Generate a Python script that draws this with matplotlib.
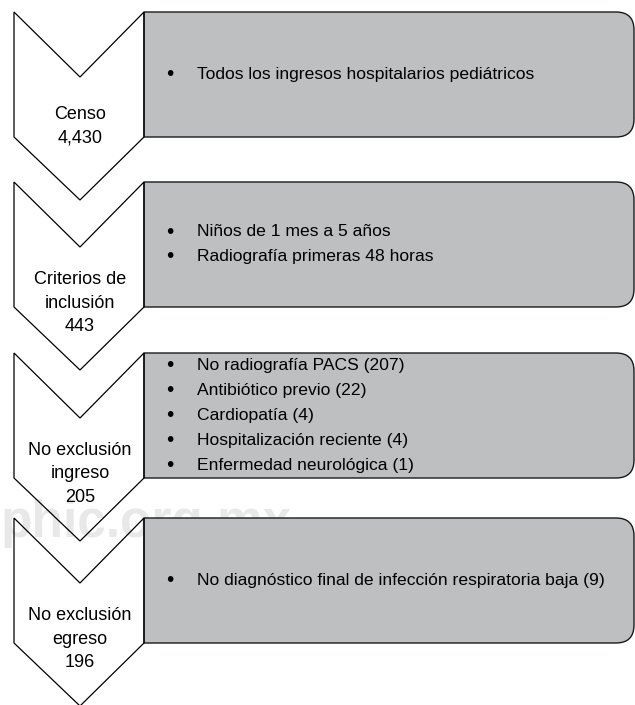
import matplotlib
matplotlib.use('Agg')
import matplotlib.pyplot as plt
from matplotlib.path import Path
from matplotlib.patches import PathPatch, Polygon

# etapas del diagrama de flujo
etapas = ['Censo\n4,430',
          'Criterios de\ninclusión\n443',
          'No exclusión\ningreso\n205',
          'No exclusión\negreso\n196']

criterios = [
    ['Todos los ingresos hospitalarios pediátricos'],
    ['Niños de 1 mes a 5 años', 'Radiografía primeras 48 horas'],
    ['No radiografía PACS (207)', 'Antibiótico previo (22)', 'Cardiopatía (4)',
     'Hospitalización reciente (4)', 'Enfermedad neurológica (1)'],
    ['No diagnóstico final de infección respiratoria baja (9)'],
]

FUENTE = ['Liberation Sans', 'DejaVu Sans']
GRIS = '#bebfc1'

# geometria (pixeles)
tops = [12, 182, 353, 518]
x0, xm, x1, xr = 14, 80, 144, 634
alto = 125
muesca = 65
radio = 18
interlinea = 25


def caja(top):
    b = top + alto
    verts = [(x1, top), (xr - radio, top), (xr, top), (xr, top + radio),
             (xr, b - radio), (xr, b), (xr - radio, b), (x1, b), (x1, top)]
    codes = [Path.MOVETO, Path.LINETO, Path.CURVE3, Path.CURVE3,
             Path.LINETO, Path.CURVE3, Path.CURVE3, Path.LINETO, Path.CLOSEPOLY]
    return PathPatch(Path(verts, codes), facecolor=GRIS, edgecolor='#1a1a1a',
                     lw=1.0, zorder=1)


def main():
    fig = plt.figure(figsize=(6.35, 7.05), dpi=100)
    ax = fig.add_axes([0, 0, 1, 1])
    ax.set_xlim(0, 635)
    ax.set_ylim(705, 0)
    ax.axis('off')

    # marca de agua
    ax.text(1, 537, 'phic.org.mx', fontsize=37, fontweight='bold',
            color='#e8e8e8', family=FUENTE,
            ha='left', va='baseline', zorder=0)

    for top, etiqueta, lineas in zip(tops, etapas, criterios):
        ax.add_patch(caja(top))
        b = top + alto
        flecha = [(x0, top), (xm, top + muesca), (x1, top), (x1, b),
                  (xm, b + muesca - 2), (x0, b)]
        ax.add_patch(Polygon(flecha, closed=True, fill=False,
                             edgecolor='black', lw=0.9, zorder=2))
        n = etiqueta.count('\n') + 1
        ax.text(xm, top + 100 + 7 * n, etiqueta, ha='center', va='center',
                fontsize=13, family=FUENTE, linespacing=1.5, zorder=3)

        centro = top + alto / 2
        y0 = centro - (len(lineas) - 1) * interlinea / 2
        for i, linea in enumerate(lineas):
            y = y0 + i * interlinea
            ax.text(170, y, '•', ha='center', va='center', fontsize=15,
                    family=FUENTE, zorder=3)
            ax.text(197, y, linea, ha='left', va='center', fontsize=12.6,
                    family=FUENTE, zorder=3)

    fig.savefig('out.png', dpi=100)


if __name__ == '__main__':
    main()
